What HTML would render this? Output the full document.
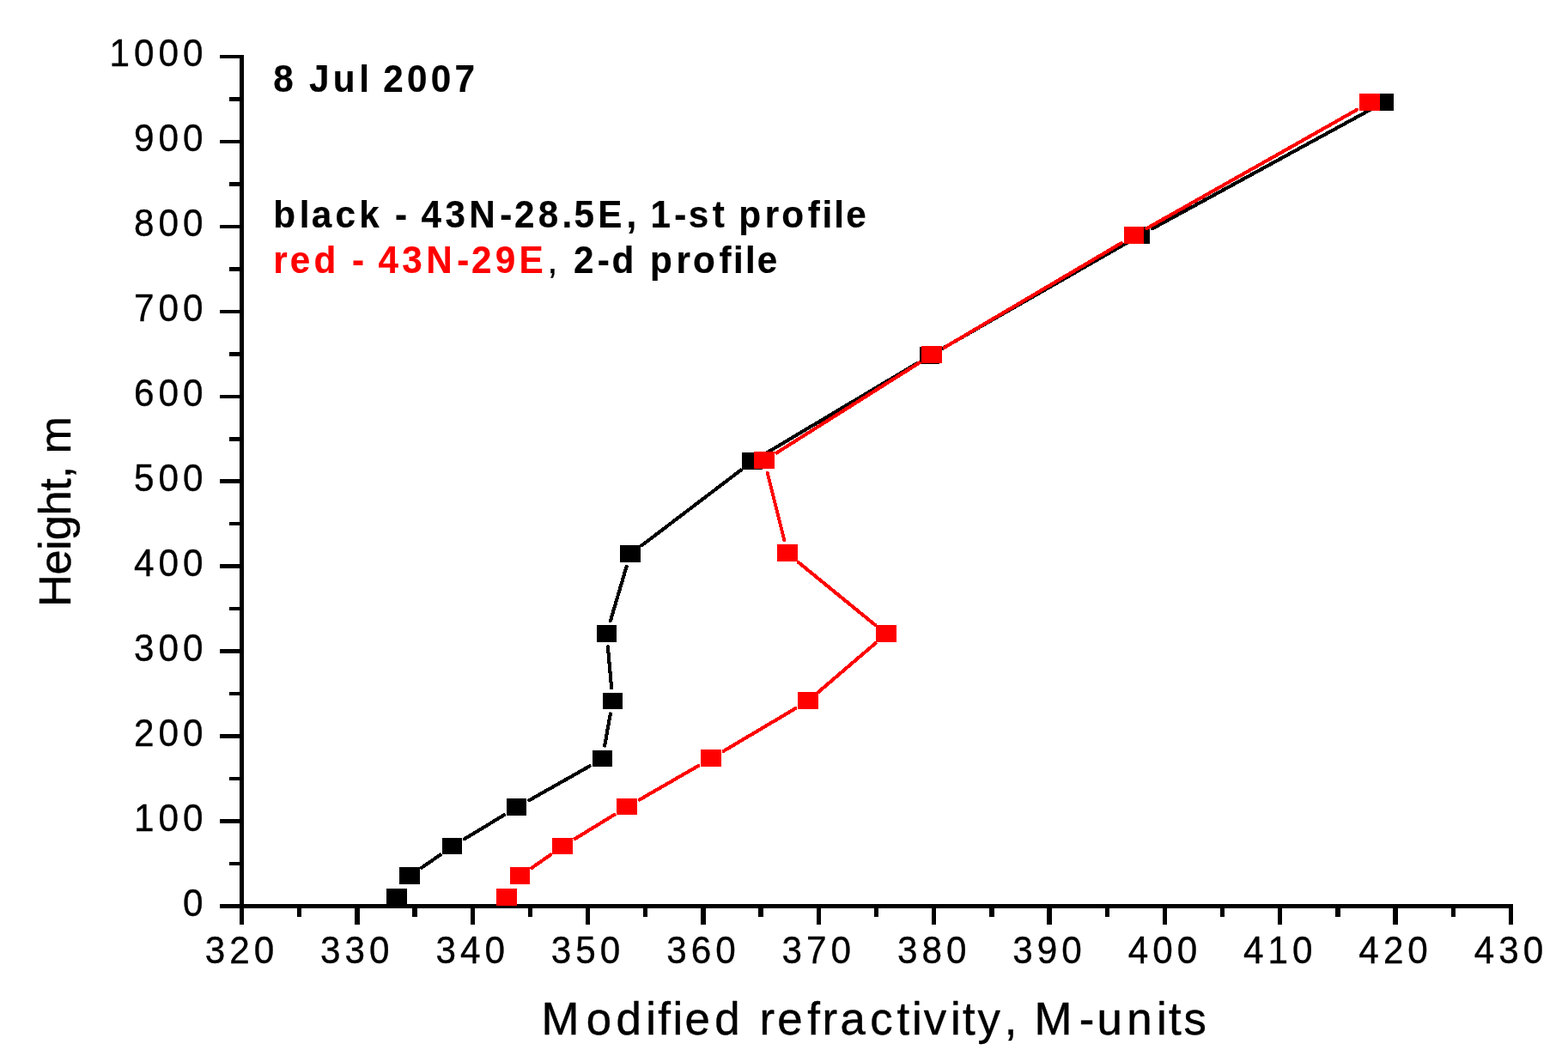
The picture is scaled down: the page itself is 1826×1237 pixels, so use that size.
<!DOCTYPE html>
<html lang="en">
<head>
<meta charset="utf-8">
<title>Modified refractivity profiles, 8 Jul 2007</title>
<style>
html,body{margin:0;padding:0;background:#fff;}
body{width:1826px;height:1237px;overflow:hidden;font-family:"Liberation Sans",Arial,sans-serif;}
svg{display:block;}
text{white-space:pre;}
</style>
</head>
<body>
<svg width="1826" height="1237" viewBox="0 0 1826 1237" role="img" aria-label="Modified refractivity versus height, 8 Jul 2007" font-family="'Liberation Sans', Arial, sans-serif">
<rect width="1826" height="1237" fill="#fff"/>
<g fill="#000" shape-rendering="crispEdges">
<rect x="279" y="64" width="5" height="1013"/>
<rect x="256" y="1053" width="1506" height="5"/>
<rect x="267" y="1004" width="12" height="4"/>
<rect x="256" y="954" width="23" height="5"/>
<rect x="267" y="905" width="12" height="4"/>
<rect x="256" y="855" width="23" height="5"/>
<rect x="267" y="806" width="12" height="4"/>
<rect x="256" y="756" width="23" height="5"/>
<rect x="267" y="707" width="12" height="4"/>
<rect x="256" y="657" width="23" height="5"/>
<rect x="267" y="608" width="12" height="4"/>
<rect x="256" y="558" width="23" height="5"/>
<rect x="267" y="509" width="12" height="5"/>
<rect x="256" y="460" width="23" height="4"/>
<rect x="267" y="410" width="12" height="5"/>
<rect x="256" y="361" width="23" height="4"/>
<rect x="267" y="311" width="12" height="5"/>
<rect x="256" y="262" width="23" height="4"/>
<rect x="267" y="212" width="12" height="5"/>
<rect x="256" y="163" width="23" height="4"/>
<rect x="267" y="113" width="12" height="5"/>
<rect x="256" y="64" width="23" height="4"/>
<rect x="279" y="1058" width="5" height="19"/>
<rect x="346" y="1058" width="5" height="10"/>
<rect x="413" y="1058" width="6" height="19"/>
<rect x="480" y="1058" width="6" height="10"/>
<rect x="548" y="1058" width="5" height="19"/>
<rect x="615" y="1058" width="5" height="10"/>
<rect x="682" y="1058" width="5" height="19"/>
<rect x="749" y="1058" width="5" height="10"/>
<rect x="816" y="1058" width="6" height="19"/>
<rect x="883" y="1058" width="6" height="10"/>
<rect x="951" y="1058" width="5" height="19"/>
<rect x="1018" y="1058" width="5" height="10"/>
<rect x="1085" y="1058" width="5" height="19"/>
<rect x="1152" y="1058" width="6" height="10"/>
<rect x="1219" y="1058" width="6" height="19"/>
<rect x="1287" y="1058" width="5" height="10"/>
<rect x="1354" y="1058" width="5" height="19"/>
<rect x="1421" y="1058" width="5" height="10"/>
<rect x="1488" y="1058" width="5" height="19"/>
<rect x="1555" y="1058" width="6" height="10"/>
<rect x="1622" y="1058" width="6" height="19"/>
<rect x="1690" y="1058" width="5" height="10"/>
<rect x="1757" y="1058" width="5" height="19"/>
</g>
<g>
<text transform="translate(213.09,1066.50) scale(0.96,1)" x="0.00" y="0" font-size="44.0" font-weight="normal" fill="#000" stroke="#000" stroke-width="0.4" stroke-linejoin="round">0</text>
<text transform="translate(156.07,967.55) scale(0.96,1)" x="0.00 29.70 59.39" y="0" font-size="44.0" font-weight="normal" fill="#000" stroke="#000" stroke-width="0.4" stroke-linejoin="round">100</text>
<text transform="translate(156.07,868.60) scale(0.96,1)" x="0.00 29.70 59.39" y="0" font-size="44.0" font-weight="normal" fill="#000" stroke="#000" stroke-width="0.4" stroke-linejoin="round">200</text>
<text transform="translate(156.07,769.65) scale(0.96,1)" x="0.00 29.70 59.39" y="0" font-size="44.0" font-weight="normal" fill="#000" stroke="#000" stroke-width="0.4" stroke-linejoin="round">300</text>
<text transform="translate(156.07,670.70) scale(0.96,1)" x="0.00 29.70 59.39" y="0" font-size="44.0" font-weight="normal" fill="#000" stroke="#000" stroke-width="0.4" stroke-linejoin="round">400</text>
<text transform="translate(156.07,571.75) scale(0.96,1)" x="0.00 29.70 59.39" y="0" font-size="44.0" font-weight="normal" fill="#000" stroke="#000" stroke-width="0.4" stroke-linejoin="round">500</text>
<text transform="translate(156.07,472.80) scale(0.96,1)" x="0.00 29.70 59.39" y="0" font-size="44.0" font-weight="normal" fill="#000" stroke="#000" stroke-width="0.4" stroke-linejoin="round">600</text>
<text transform="translate(156.07,373.85) scale(0.96,1)" x="0.00 29.70 59.39" y="0" font-size="44.0" font-weight="normal" fill="#000" stroke="#000" stroke-width="0.4" stroke-linejoin="round">700</text>
<text transform="translate(156.07,274.90) scale(0.96,1)" x="0.00 29.70 59.39" y="0" font-size="44.0" font-weight="normal" fill="#000" stroke="#000" stroke-width="0.4" stroke-linejoin="round">800</text>
<text transform="translate(156.07,175.95) scale(0.96,1)" x="0.00 29.70 59.39" y="0" font-size="44.0" font-weight="normal" fill="#000" stroke="#000" stroke-width="0.4" stroke-linejoin="round">900</text>
<text transform="translate(127.57,77.00) scale(0.96,1)" x="0.00 29.70 59.39 89.09" y="0" font-size="44.0" font-weight="normal" fill="#000" stroke="#000" stroke-width="0.4" stroke-linejoin="round">1000</text>
<text transform="translate(238.74,1122.00) scale(0.96,1)" x="0.00 29.70 59.39" y="0" font-size="44.0" font-weight="normal" fill="#000" stroke="#000" stroke-width="0.4" stroke-linejoin="round">320</text>
<text transform="translate(373.10,1122.00) scale(0.96,1)" x="0.00 29.70 59.39" y="0" font-size="44.0" font-weight="normal" fill="#000" stroke="#000" stroke-width="0.4" stroke-linejoin="round">330</text>
<text transform="translate(507.46,1122.00) scale(0.96,1)" x="0.00 29.70 59.39" y="0" font-size="44.0" font-weight="normal" fill="#000" stroke="#000" stroke-width="0.4" stroke-linejoin="round">340</text>
<text transform="translate(641.83,1122.00) scale(0.96,1)" x="0.00 29.70 59.39" y="0" font-size="44.0" font-weight="normal" fill="#000" stroke="#000" stroke-width="0.4" stroke-linejoin="round">350</text>
<text transform="translate(776.19,1122.00) scale(0.96,1)" x="0.00 29.70 59.39" y="0" font-size="44.0" font-weight="normal" fill="#000" stroke="#000" stroke-width="0.4" stroke-linejoin="round">360</text>
<text transform="translate(910.56,1122.00) scale(0.96,1)" x="0.00 29.70 59.39" y="0" font-size="44.0" font-weight="normal" fill="#000" stroke="#000" stroke-width="0.4" stroke-linejoin="round">370</text>
<text transform="translate(1044.92,1122.00) scale(0.96,1)" x="0.00 29.70 59.39" y="0" font-size="44.0" font-weight="normal" fill="#000" stroke="#000" stroke-width="0.4" stroke-linejoin="round">380</text>
<text transform="translate(1179.28,1122.00) scale(0.96,1)" x="0.00 29.70 59.39" y="0" font-size="44.0" font-weight="normal" fill="#000" stroke="#000" stroke-width="0.4" stroke-linejoin="round">390</text>
<text transform="translate(1313.65,1122.00) scale(0.96,1)" x="0.00 29.70 59.39" y="0" font-size="44.0" font-weight="normal" fill="#000" stroke="#000" stroke-width="0.4" stroke-linejoin="round">400</text>
<text transform="translate(1448.01,1122.00) scale(0.96,1)" x="0.00 29.70 59.39" y="0" font-size="44.0" font-weight="normal" fill="#000" stroke="#000" stroke-width="0.4" stroke-linejoin="round">410</text>
<text transform="translate(1582.37,1122.00) scale(0.96,1)" x="0.00 29.70 59.39" y="0" font-size="44.0" font-weight="normal" fill="#000" stroke="#000" stroke-width="0.4" stroke-linejoin="round">420</text>
<text transform="translate(1716.74,1122.00) scale(0.96,1)" x="0.00 29.70 59.39" y="0" font-size="44.0" font-weight="normal" fill="#000" stroke="#000" stroke-width="0.4" stroke-linejoin="round">430</text>
</g>
<text transform="translate(630.50,1205.00) scale(0.987,1)" x="0.00 52.83 88.11 123.38 137.47 155.09 169.18 204.46 239.73 257.35 278.47 313.75 331.37 352.49 387.76 419.48 437.10 451.19 482.90 496.99 514.61 546.32 563.95 581.57 634.40 655.52 690.79 726.07 740.16 757.78" y="0" font-size="53.5" font-weight="normal" fill="#000" stroke="#000" stroke-width="0.45" stroke-linejoin="round">Modified refractivity, M-units</text>
<g transform="translate(81.6,707) rotate(-90)">
<text transform="translate(0.00,0.00) scale(1.0,1)" x="0.00 37.41 66.22 77.73 106.53 135.34 149.73 164.13 178.52" y="0" font-size="52.3" font-weight="normal" fill="#000" stroke="#000" stroke-width="0.45" stroke-linejoin="round">Height, m</text>
</g>
<text transform="translate(318.30,106.80) scale(0.971,1)" x="0.00 28.64 42.94 71.58 103.04 117.34 131.65 160.29 188.93 217.56" y="0" font-size="43.5" font-weight="bold" fill="#000" stroke="#000" stroke-width="0.2" stroke-linejoin="round">8 Jul 2007</text>
<text transform="translate(318.30,265.00) scale(0.971,1)" x="0.00 31.45 45.76 74.40 103.04 131.68 145.98 163.13 177.44 206.07 234.71 271.90 289.05 317.68 346.32 360.63 389.27 423.61 437.92 452.23 480.86 498.01 526.65 543.80 558.10 589.56 609.60 641.05 658.20 672.51 686.81" y="0" font-size="43.5" font-weight="bold" fill="#000" stroke="#000" stroke-width="0.2" stroke-linejoin="round">black - 43N-28.5E, 1-st profile</text>
<text transform="translate(318.30,318.00) scale(0.971,1)" x="0.00 20.04 48.68 80.13 94.44 111.59 125.89 154.53 183.17 220.36 237.50 266.14 294.78" y="0" font-size="43.5" font-weight="bold" fill="#f00" stroke="#f00" stroke-width="0.2" stroke-linejoin="round">red - 43N-29E</text>
<text transform="translate(637.58,318.00) scale(0.971,1)" x="0.00" y="0" font-size="43.5" font-weight="normal" fill="#000" stroke="#000" stroke-width="0.4" stroke-linejoin="round">,</text>
<text transform="translate(668.00,318.00) scale(0.971,1)" x="0.00 28.64 45.79 77.24 91.55 123.00 143.04 174.49 191.64 205.95 220.25" y="0" font-size="43.5" font-weight="bold" fill="#000" stroke="#000" stroke-width="0.2" stroke-linejoin="round">2-d profile</text>
<g shape-rendering="crispEdges" fill="#000" stroke="#000" stroke-width="4.1" stroke-linecap="round">
<line x1="490.77" y1="1010.90" x2="512.73" y2="995.60"/>
<line x1="541.00" y1="977.20" x2="587.00" y2="949.30"/>
<line x1="616.34" y1="932.12" x2="686.66" y2="892.38"/>
<line x1="704.18" y1="868.53" x2="710.82" y2="831.47"/>
<line x1="712.15" y1="801.40" x2="707.85" y2="753.10"/>
<line x1="710.84" y1="723.32" x2="729.66" y2="659.68"/>
<line x1="747.27" y1="635.41" x2="862.73" y2="547.59"/>
<line x1="890.59" y1="528.81" x2="1067.91" y2="423.19"/>
<line x1="1097.28" y1="406.04" x2="1312.22" y2="282.96"/>
<line x1="1341.99" y1="266.32" x2="1596.01" y2="127.68"/>
<rect x="450" y="1035" width="24" height="20" stroke="none"/>
<rect x="465" y="1010" width="24" height="20" stroke="none"/>
<rect x="515" y="976" width="23" height="19" stroke="none"/>
<rect x="590" y="930" width="23" height="20" stroke="none"/>
<rect x="690" y="874" width="23" height="19" stroke="none"/>
<rect x="702" y="807" width="23" height="19" stroke="none"/>
<rect x="695" y="728" width="23" height="20" stroke="none"/>
<rect x="722" y="635" width="24" height="20" stroke="none"/>
<rect x="864" y="527" width="24" height="20" stroke="none"/>
<rect x="1071" y="404" width="23" height="20" stroke="none"/>
<rect x="1315" y="264" width="24" height="20" stroke="none"/>
<rect x="1599" y="109" width="24" height="20" stroke="none"/>
</g>
<g shape-rendering="crispEdges" fill="#f00" stroke="#f00" stroke-width="4.1" stroke-linecap="round">
<line x1="619.27" y1="1010.90" x2="641.23" y2="995.60"/>
<line x1="669.45" y1="977.14" x2="715.55" y2="948.86"/>
<line x1="744.74" y1="931.50" x2="813.26" y2="892.00"/>
<line x1="842.61" y1="874.84" x2="926.39" y2="825.16"/>
<line x1="953.54" y1="805.75" x2="1019.46" y2="749.25"/>
<line x1="1019.16" y1="728.01" x2="929.84" y2="654.99"/>
<line x1="913.30" y1="629.19" x2="893.70" y2="550.81"/>
<line x1="904.30" y1="527.48" x2="1070.70" y2="422.52"/>
<line x1="1099.63" y1="404.86" x2="1305.87" y2="283.14"/>
<line x1="1335.34" y1="266.12" x2="1580.16" y2="127.88"/>
<rect x="578" y="1035" width="24" height="20" stroke="none"/>
<rect x="594" y="1010" width="23" height="20" stroke="none"/>
<rect x="643" y="976" width="24" height="19" stroke="none"/>
<rect x="718" y="930" width="24" height="19" stroke="none"/>
<rect x="816" y="873" width="24" height="20" stroke="none"/>
<rect x="929" y="806" width="24" height="20" stroke="none"/>
<rect x="1020" y="728" width="24" height="20" stroke="none"/>
<rect x="905" y="634" width="24" height="20" stroke="none"/>
<rect x="878" y="526" width="24" height="20" stroke="none"/>
<rect x="1073" y="403" width="24" height="20" stroke="none"/>
<rect x="1309" y="264" width="23" height="20" stroke="none"/>
<rect x="1583" y="109" width="24" height="20" stroke="none"/>
</g>
</svg>
</body>
</html>
